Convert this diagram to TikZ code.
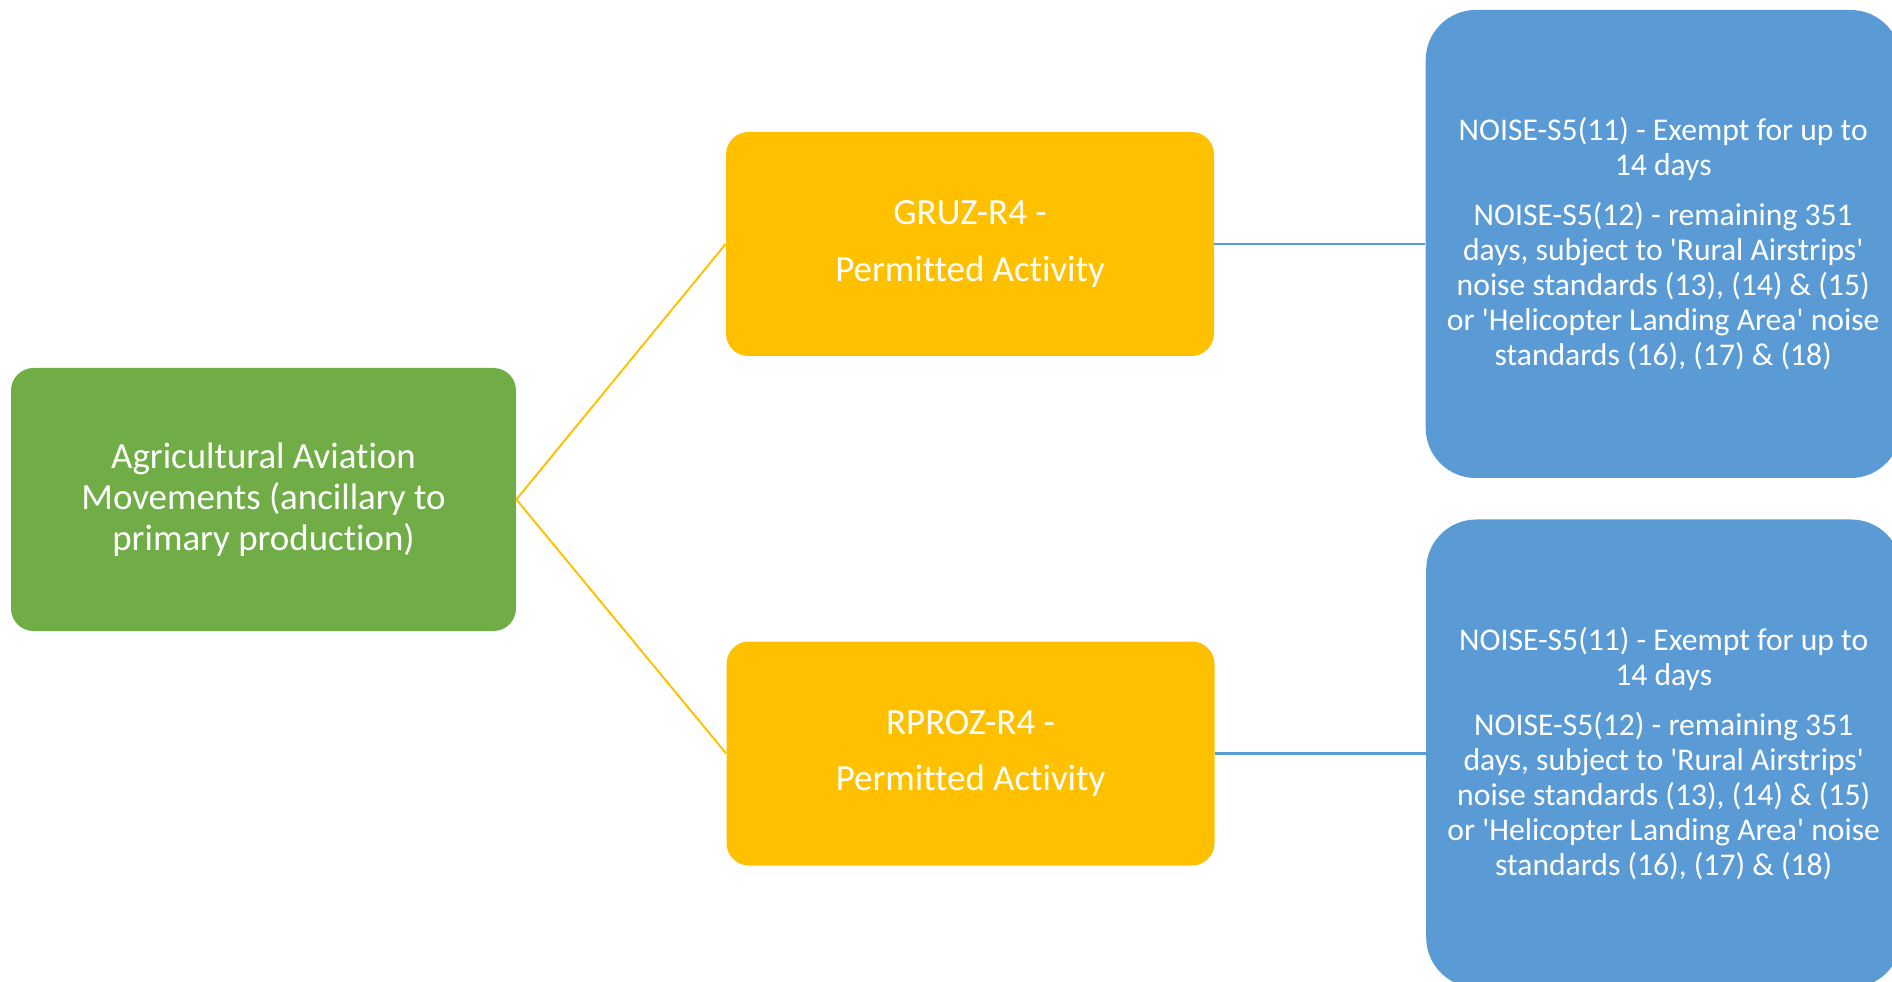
\documentclass[tikz,border=0pt]{standalone}
\usepackage{fontspec}
\setmainfont{Carlito}[Ligatures=NoCommon]
\usetikzlibrary{positioning}
\definecolor{aggreen}{HTML}{70AD47}
\definecolor{ruleyellow}{HTML}{FFC000}
\definecolor{noiseblue}{HTML}{5B9BD5}

\begin{document}
\begin{tikzpicture}[
  activitybox/.style = {fill=aggreen, text=white, rounded corners=0.45cm, minimum width=10.1cm, minimum height=5.26cm, align=center, font=\fontsize{21}{23.3}\selectfont},
  rulebox/.style = {fill=ruleyellow, text=white, rounded corners=0.45cm, minimum width=9.76cm, minimum height=4.48cm, align=center, font=\fontsize{21}{23.3}\selectfont},
  noisebox/.style = {fill=noiseblue, text=white, rounded corners=1cm, minimum width=9.5cm, minimum height=9.36cm, align=center, font=\fontsize{18}{19.9}\selectfont},
  branch/.style = {ruleyellow, line width=1.1pt},
  link/.style = {noiseblue, line width=1.5pt}
]
  \clip (0,0) rectangle (37.84,-19.64);

  % Activity
  \node[activitybox] (agri) at (5.27,-9.99) {Agricultural Aviation\\Movements (ancillary to\\primary production)};

  % Zone rules
  \node[rulebox] (gruz) at (19.4,-4.88) {GRUZ-R4 -\\[9pt]Permitted Activity};
  \node[rulebox] (rproz) at (19.41,-15.07) {RPROZ-R4 -\\[9pt]Permitted Activity};

  % Noise standards
  \node[noisebox, right=4.22cm of gruz] (gruznoise) {NOISE-S5(11) - Exempt for up to\\14 days\\[8.5pt]NOISE-S5(12) - remaining 351\\days, subject to \textquotesingle Rural Airstrips\textquotesingle\\noise standards (13), (14) \& (15)\\or \textquotesingle Helicopter Landing Area\textquotesingle{} noise\\standards (16), (17) \& (18)};
  \node[noisebox, right=4.22cm of rproz] (rproznoise) {NOISE-S5(11) - Exempt for up to\\14 days\\[8.5pt]NOISE-S5(12) - remaining 351\\days, subject to \textquotesingle Rural Airstrips\textquotesingle\\noise standards (13), (14) \& (15)\\or \textquotesingle Helicopter Landing Area\textquotesingle{} noise\\standards (16), (17) \& (18)};

  % Connectors
  \draw[branch] (agri.east) -- (gruz.west);
  \draw[branch] (agri.east) -- (rproz.west);
  \draw[link] (gruz.east) -- (gruznoise.west);
  \draw[link] (rproz.east) -- (rproznoise.west);

\end{tikzpicture}
\end{document}
